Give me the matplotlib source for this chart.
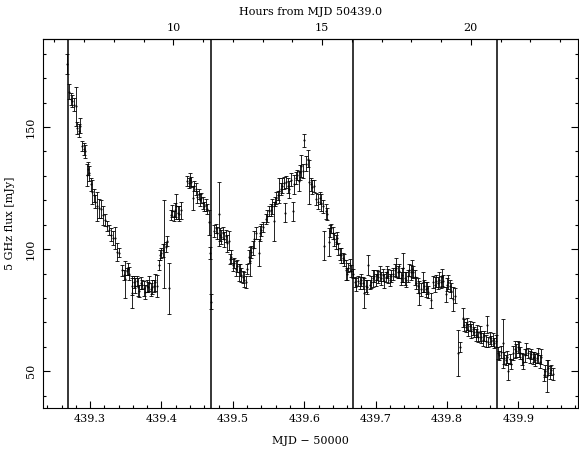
import numpy as np
import matplotlib.pyplot as plt
from matplotlib.ticker import MultipleLocator, FixedLocator

# =====================================
# DATA (MJD - 50000, 5 GHz flux [mJy], 1-sigma error)
# =====================================

mjd_a = [439.268, 439.270, 439.273, 439.275, 439.277, 439.280, 439.282, 439.284, 439.286, 439.289,
         439.291, 439.293, 439.295, 439.297, 439.299, 439.301, 439.303, 439.305, 439.307, 439.309,
         439.312, 439.315, 439.318, 439.321, 439.324, 439.326, 439.329, 439.332, 439.335, 439.338,
         439.340, 439.345, 439.347, 439.349, 439.351, 439.353, 439.354, 439.358, 439.359, 439.361,
         439.363, 439.365, 439.367, 439.369, 439.371, 439.373, 439.375, 439.377, 439.379, 439.381,
         439.383, 439.385, 439.387, 439.389, 439.391, 439.393, 439.396, 439.398, 439.400, 439.402,
         439.404, 439.406, 439.408, 439.410, 439.413, 439.415, 439.417, 439.419, 439.421, 439.423,
         439.425, 439.427, 439.436, 439.438, 439.440, 439.442, 439.444, 439.446, 439.448, 439.450,
         439.452, 439.454, 439.456, 439.458, 439.460, 439.462, 439.464, 439.466, 439.468, 439.469]
flux_a = [175.8, 164.4, 161.5, 160.7, 159.2, 158.4, 149.5, 148.5, 150.5, 142.2,
          141.0, 140.0, 130.5, 133.0, 131.0, 126.5, 123.5, 122.0, 119.5, 117.5,
          116.7, 116.5, 113.8, 111.8, 109.4, 108.0, 106.0, 104.5, 104.4, 98.8,
          98.6, 91.3, 89.5, 87.6, 91.0, 91.8, 90.0, 85.1, 82.2, 86.5,
          85.0, 87.0, 84.5, 83.0, 86.0, 85.5, 84.0, 82.5, 85.0, 84.5,
          86.0, 83.5, 84.5, 85.0, 86.5, 85.0, 93.5, 97.5, 98.5, 99.5,
          102.0, 101.0, 103.5, 84.0, 114.0, 115.5, 113.5, 116.0, 117.5, 115.0,
          114.5, 116.0, 128.0, 127.0, 128.5, 127.5, 121.0, 126.0, 124.5, 121.5,
          122.5, 120.0, 121.0, 119.0, 117.5, 118.0, 116.5, 111.0, 98.5, 78.5]
err_a = [4.0, 3.1, 2.4, 2.4, 2.5, 8.0, 2.5, 2.8, 3.0, 2.2,
         2.5, 2.8, 4.5, 2.6, 3.0, 2.5, 5.0, 2.8, 2.5, 6.0,
         3.8, 3.8, 3.8, 2.5, 2.0, 2.0, 2.8, 2.8, 4.5, 3.8,
         2.0, 2.4, 2.0, 7.5, 1.5, 2.4, 2.7, 3.8, 6.1, 2.5,
         3.0, 2.0, 3.5, 2.5, 2.5, 2.0, 3.0, 3.0, 2.5, 2.0,
         3.0, 2.5, 3.0, 2.5, 3.5, 4.5, 2.0, 2.0, 2.0, 2.5,
         18.0, 2.0, 2.0, 10.5, 2.0, 2.5, 2.0, 3.0, 5.0, 2.5,
         3.0, 3.5, 2.0, 2.0, 2.5, 2.0, 5.0, 2.0, 2.5, 2.5,
         2.0, 2.5, 2.0, 2.5, 2.0, 2.5, 2.0, 5.0, 2.5, 3.0]

mjd_b = [439.474, 439.476, 439.478, 439.480, 439.482, 439.484, 439.486, 439.488, 439.490, 439.492,
         439.494, 439.496, 439.498, 439.500, 439.502, 439.504, 439.506, 439.508, 439.510, 439.512,
         439.514, 439.516, 439.518, 439.520, 439.522, 439.524, 439.526, 439.528, 439.530, 439.532,
         439.536, 439.538, 439.540, 439.542, 439.546, 439.548, 439.551, 439.553, 439.555, 439.557,
         439.559, 439.561, 439.563, 439.565, 439.567, 439.569, 439.571, 439.573, 439.575, 439.577,
         439.579, 439.581, 439.584, 439.586, 439.588, 439.590, 439.592, 439.594, 439.596, 439.598,
         439.600, 439.603, 439.605, 439.607, 439.609, 439.611, 439.613, 439.617, 439.619, 439.622,
         439.624, 439.626, 439.628, 439.630, 439.632, 439.634, 439.636, 439.638, 439.640, 439.642,
         439.644, 439.646, 439.648, 439.650, 439.652, 439.654, 439.656, 439.658, 439.660, 439.662,
         439.664, 439.666, 439.668]
flux_b = [107.5, 108.5, 106.5, 114.5, 106.0, 105.0, 106.5, 104.0, 105.5, 102.5,
          103.5, 96.0, 97.0, 93.5, 94.5, 92.0, 93.0, 90.5, 91.5, 89.5,
          88.5, 87.5, 86.5, 92.0, 97.0, 95.0, 99.0, 100.5, 104.0, 106.5,
          98.5, 106.5, 108.0, 109.0, 112.5, 113.5, 115.5, 116.0, 117.5, 111.5,
          119.5, 121.0, 122.0, 124.0, 124.5, 126.0, 127.0, 115.0, 127.5, 126.0,
          124.5, 128.5, 115.5, 126.5, 129.0, 130.5, 128.0, 131.5, 134.0, 132.0,
          144.5, 135.0, 137.0, 127.5, 126.5, 125.5, 126.0, 120.5, 119.5, 121.0,
          119.0, 117.5, 101.5, 115.5, 114.5, 103.0, 107.5, 108.5, 106.5, 104.0,
          103.0, 104.5, 100.0, 98.0, 97.5, 96.5, 95.5, 91.5, 90.0, 92.5,
          93.5, 91.0, 90.0]
err_b = [2.5, 2.0, 2.5, 13.0, 2.5, 3.0, 2.5, 3.0, 2.5, 3.5,
         4.0, 2.0, 2.5, 2.5, 2.0, 3.0, 2.5, 3.5, 2.5, 3.0,
         2.5, 3.0, 2.5, 2.0, 2.5, 6.0, 2.5, 3.0, 3.5, 2.5,
         5.5, 3.0, 2.5, 2.0, 2.0, 2.5, 2.0, 2.5, 3.0, 8.0,
         2.0, 2.5, 2.0, 5.0, 2.5, 3.0, 2.5, 4.0, 2.5, 3.0,
         3.5, 2.5, 4.0, 4.0, 2.5, 2.0, 4.0, 3.0, 4.5, 3.0,
         2.7, 3.0, 3.5, 9.0, 2.5, 3.0, 2.5, 2.5, 3.0, 2.5,
         3.5, 2.5, 5.8, 3.0, 2.5, 5.8, 2.5, 2.0, 2.5, 2.5,
         3.0, 2.5, 2.5, 2.5, 3.0, 2.0, 2.5, 4.0, 2.5, 2.0,
         2.5, 2.5, 2.0]

mjd_c = [439.671, 439.673, 439.675, 439.678, 439.680, 439.682, 439.684, 439.686, 439.688, 439.690,
         439.692, 439.694, 439.696, 439.698, 439.700, 439.702, 439.704, 439.706, 439.708, 439.710,
         439.712, 439.714, 439.716, 439.718, 439.720, 439.722, 439.724, 439.727, 439.729, 439.731,
         439.733, 439.735, 439.737, 439.738, 439.741, 439.743, 439.745, 439.747, 439.749, 439.751,
         439.753, 439.755, 439.757, 439.759, 439.761, 439.763, 439.766, 439.768, 439.770, 439.772,
         439.774, 439.777, 439.781, 439.783, 439.785, 439.787, 439.789, 439.791, 439.793, 439.795,
         439.798, 439.800, 439.802, 439.804, 439.806, 439.809, 439.811]
flux_c = [86.5, 85.5, 87.0, 86.0, 87.5, 86.0, 82.0, 85.0, 84.5, 93.5,
          85.5, 86.5, 88.0, 89.0, 87.5, 89.5, 88.5, 90.0, 88.0, 89.5,
          87.0, 88.5, 90.5, 89.0, 87.5, 89.0, 90.0, 91.5, 92.5, 90.5,
          91.0, 88.0, 89.5, 92.5, 88.0, 87.5, 89.0, 91.5, 90.5, 92.0,
          90.5, 88.5, 86.0, 85.0, 82.0, 83.5, 86.5, 85.0, 83.5, 84.0,
          82.5, 79.0, 86.5, 85.5, 87.0, 86.0, 87.5, 86.5, 88.5, 87.0,
          81.5, 85.5, 86.5, 85.0, 83.0, 79.5, 81.0]
err_c = [2.0, 2.5, 2.0, 2.5, 2.5, 2.5, 6.0, 2.5, 3.0, 4.0,
         2.0, 2.5, 3.5, 2.5, 2.5, 2.0, 2.5, 3.0, 2.5, 2.5,
         3.0, 2.0, 2.5, 3.0, 2.5, 2.5, 2.5, 2.5, 4.0, 2.5,
         3.0, 2.5, 3.0, 6.0, 2.5, 3.0, 2.5, 2.5, 3.0, 3.5,
         2.5, 3.0, 2.5, 3.0, 5.0, 2.5, 4.0, 2.5, 3.0, 2.5,
         2.5, 3.0, 2.5, 3.0, 2.5, 2.5, 3.0, 2.5, 3.5, 2.5,
         3.0, 2.5, 3.0, 2.5, 3.0, 5.0, 3.0]

mjd_d = [439.816, 439.818, 439.822, 439.824, 439.826, 439.828, 439.830, 439.832, 439.834, 439.836,
         439.838, 439.840, 439.842, 439.844, 439.846, 439.848, 439.850, 439.852, 439.854, 439.856,
         439.858, 439.860, 439.862, 439.864, 439.866, 439.868, 439.871, 439.873, 439.875, 439.878,
         439.880, 439.882, 439.884, 439.886, 439.888, 439.890, 439.893, 439.895, 439.897, 439.899,
         439.901, 439.903, 439.905, 439.907, 439.909, 439.911, 439.913, 439.916, 439.918, 439.920,
         439.922, 439.924, 439.926, 439.928, 439.930, 439.932, 439.936, 439.938, 439.940, 439.942,
         439.944, 439.946, 439.949]
flux_d = [57.5, 60.0, 72.0, 69.0, 68.0, 69.5, 67.0, 68.5, 66.5, 67.5,
          66.0, 65.0, 66.5, 64.0, 65.5, 64.0, 63.0, 64.5, 62.5, 69.0,
          62.0, 63.5, 62.5, 63.0, 61.5, 62.5, 57.5, 56.5, 58.0, 61.5,
          55.5, 54.5, 56.0, 50.0, 55.0, 53.0, 57.5, 59.0, 58.5, 60.0,
          59.0, 57.5, 55.0, 54.0, 56.5, 59.0, 57.5, 56.0, 57.0, 55.5,
          56.0, 54.5, 55.5, 56.5, 54.0, 56.0, 48.5, 50.0, 48.0, 51.5,
          49.5, 50.5, 49.0]
err_d = [9.5, 2.0, 4.0, 2.5, 2.0, 2.5, 2.5, 2.0, 3.0, 2.5,
         2.0, 2.5, 2.5, 2.0, 3.0, 2.5, 2.5, 2.0, 2.5, 3.5,
         2.0, 2.5, 2.0, 2.5, 2.0, 2.5, 2.5, 2.0, 2.5, 10.0,
         2.5, 2.0, 2.5, 3.5, 2.0, 2.0, 3.0, 3.5, 2.5, 2.5,
         3.0, 2.5, 2.5, 3.0, 2.5, 2.5, 2.0, 2.5, 2.0, 2.5,
         2.0, 2.5, 2.0, 3.0, 2.5, 3.0, 2.5, 2.5, 6.5, 3.0,
         2.5, 2.0, 2.5]

# scan boundaries (vertical lines)
boundaries = [439.269, 439.470, 439.669, 439.870]

mjd = np.array(mjd_a + mjd_b + mjd_c + mjd_d)
flux = np.array(flux_a + flux_b + flux_c + flux_d)
err = np.array(err_a + err_b + err_c + err_d)

# =====================================
# FIGURE
# =====================================

plt.rcParams['font.family'] = 'DejaVu Serif'
plt.rcParams['font.size'] = 8

fig = plt.figure(figsize=(5.79, 4.5), dpi=100)
ax = fig.add_axes([0.0743, 0.0933, 0.9245, 0.820])

ax.errorbar(mjd, flux, yerr=err, fmt='.', ms=1.0, color='black',
            ecolor='black', elinewidth=0.6, capsize=1.5, capthick=0.6)

for b in boundaries:
    ax.axvline(b, color='black', lw=1.1)

ax.set_xlim(439.234, 439.984)
ax.set_ylim(35, 186)

# =====================================
# TICKS
# =====================================

ax.xaxis.set_major_locator(FixedLocator([439.3, 439.4, 439.5, 439.6, 439.7, 439.8, 439.9]))
ax.xaxis.set_minor_locator(MultipleLocator(0.02))
ax.yaxis.set_major_locator(FixedLocator([50, 100, 150]))
ax.yaxis.set_minor_locator(MultipleLocator(10))

ax.tick_params(which='both', direction='in', top=False, right=True, width=0.8)
ax.tick_params(which='major', length=5)
ax.tick_params(which='minor', length=2.5)
ax.tick_params(axis='x', pad=4)
ax.tick_params(axis='y', pad=5)
for lab in ax.get_yticklabels():
    lab.set_rotation(90)
    lab.set_va('center')

for s in ax.spines.values():
    s.set_linewidth(0.8)

# eixo superior em horas
sec = ax.secondary_xaxis('top', functions=(lambda x: (x - 439.0) * 24,
                                            lambda h: h / 24 + 439.0))
sec.xaxis.set_major_locator(FixedLocator([10, 15, 20]))
sec.xaxis.set_minor_locator(MultipleLocator(1))
sec.tick_params(which='both', direction='in', width=0.8, pad=4)
sec.tick_params(which='major', length=4)
sec.tick_params(which='minor', length=2.5)
sec.spines['top'].set_linewidth(0.8)
sec.set_xlabel("Hours from MJD 50439.0", labelpad=6)

ax.set_xlabel("MJD \u2212 50000", labelpad=9)
ax.set_ylabel("5 GHz flux [mJy]", labelpad=8)

plt.savefig("out.png", dpi=100)
